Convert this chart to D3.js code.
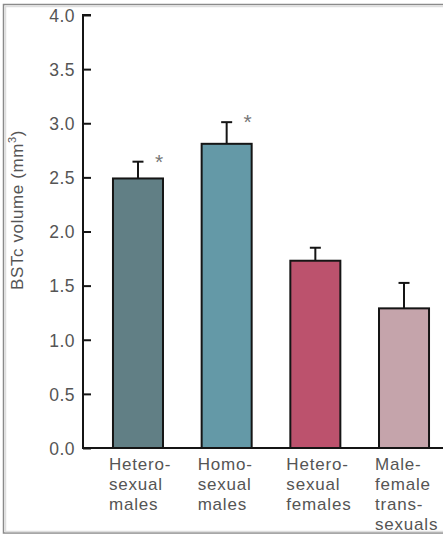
<!DOCTYPE html>
<html><head><meta charset="utf-8">
<script src="https://cdn.jsdelivr.net/npm/d3@7"></script>
<style>
html,body{margin:0;padding:0;background:#fff;}
svg{display:block;}
text{font-family:"Liberation Sans",Arial,sans-serif;}
</style></head>
<body>
<script>
const categories = ["Hetero-sexual males","Homo-sexual males","Hetero-sexual females","Male-female trans-sexuals"];
const labelLines = [["Hetero-","sexual","males"],["Homo-","sexual","males"],["Hetero-","sexual","females"],["Male-","female","trans-","sexuals"]];
const means = [2.49, 2.81, 1.73, 1.29];
const sems = [0.155, 0.20, 0.12, 0.235];
const significant = [true, true, false, false];
const colors = ["#617f85","#6499a7","#bc526d","#c5a4ab"];
const yTicks = [0,0.5,1,1.5,2,2.5,3,3.5,4];

const W = 443, H = 536;
const svg = d3.select("body").append("svg").attr("width", W).attr("height", H);

// frame
svg.append("rect").attr("x",3.5).attr("y",4.5).attr("width",460).attr("height",528.5)
  .attr("fill","none").attr("stroke","#8a8a8a").attr("stroke-width",1.5);
svg.append("rect").attr("x",5.5).attr("y",6.5).attr("width",460).attr("height",525)
  .attr("fill","none").attr("stroke","#dedede").attr("stroke-width",1.5);

const x = d3.scaleBand().domain(categories).range([83, 459]).paddingInner(0.436).paddingOuter(0.338);
const y = d3.scaleLinear().domain([0,4]).range([448, 15]);

// bars
svg.selectAll("rect.bar").data(categories).join("rect").attr("class","bar")
  .attr("x", d => x(d)).attr("width", x.bandwidth())
  .attr("y", (d,i) => y(means[i])).attr("height", (d,i) => y(0) - y(means[i]))
  .attr("fill", (d,i) => colors[i]).attr("stroke","#151515").attr("stroke-width",2);

// error bars
const eb = svg.append("g").attr("stroke","#151515").attr("stroke-width",2);
categories.forEach((c,i) => {
  const cx = x(c) + x.bandwidth()/2;
  eb.append("line").attr("x1",cx).attr("x2",cx).attr("y1",y(means[i])).attr("y2",y(means[i]+sems[i]));
  eb.append("line").attr("x1",cx-5.5).attr("x2",cx+5.5).attr("y1",y(means[i]+sems[i])).attr("y2",y(means[i]+sems[i]));
  if (significant[i]) {
    svg.append("text").attr("x",cx+21).attr("y",y(means[i]+sems[i])+7)
      .attr("text-anchor","middle").attr("font-size",21).attr("fill","#777").text("*");
  }
});

// y axis
const yAxis = svg.append("g").attr("transform","translate(83,0)")
  .call(d3.axisRight(y).tickValues(yTicks).tickFormat(d3.format(".1f")).tickSize(8));
yAxis.select(".domain").attr("stroke","#151515").attr("stroke-width",2).attr("d","M8,15H0V449");
yAxis.selectAll(".tick line").attr("stroke","#151515").attr("stroke-width",2);
yAxis.selectAll(".tick text").attr("x",-8).attr("text-anchor","end").attr("dy","0.36em")
  .attr("font-size",17.5).attr("fill","#555").attr("font-family","'Liberation Sans',Arial,sans-serif")
  .attr("letter-spacing","0.5px");

// x axis line
svg.append("line").attr("x1",82).attr("x2",x.range()[1]).attr("y1",y(0)).attr("y2",y(0))
  .attr("stroke","#151515").attr("stroke-width",2);

// x labels (one text per line)
categories.forEach((c,i) => {
  labelLines[i].forEach((ln,j) => {
    svg.append("text").attr("x", x(c) - 4).attr("y", 470 + j*20)
      .attr("font-size",17).attr("letter-spacing","0.8px").attr("fill","#555").text(ln);
  });
});

// y title
const yt = svg.append("text").attr("transform","translate(23,210) rotate(-90)")
  .attr("text-anchor","middle").attr("font-size",17).attr("letter-spacing","0.6px").attr("fill","#555");
yt.append("tspan").text("BSTc volume (mm");
yt.append("tspan").attr("font-size",11).attr("dy","-0.6em").text("3");
yt.append("tspan").attr("dy","0.4em").text(")");
</script>
</body></html>
